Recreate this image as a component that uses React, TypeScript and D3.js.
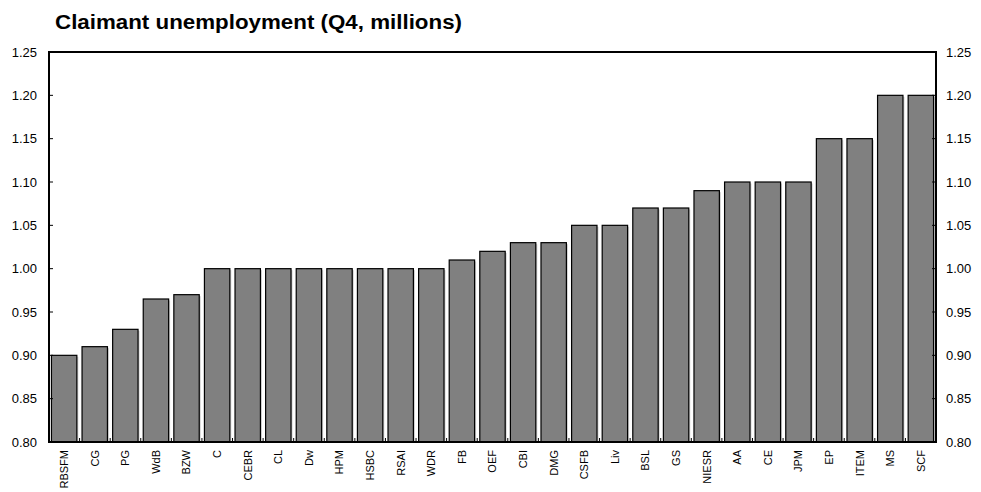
import React from "react";
import * as d3 from "d3";

const categories = ["RBSFM","CG","PG","WdB","BZW","C","CEBR","CL","Dw","HPM","HSBC","RSAI","WDR","FB","OEF","CBI","DMG","CSFB","Liv","BSL","GS","NIESR","AA","CE","JPM","EP","ITEM","MS","SCF"];
const values = [0.90,0.91,0.93,0.965,0.97,1.00,1.00,1.00,1.00,1.00,1.00,1.00,1.00,1.01,1.02,1.03,1.03,1.05,1.05,1.07,1.07,1.09,1.10,1.10,1.10,1.15,1.15,1.20,1.20];
const yTicks = [0.80,0.85,0.90,0.95,1.00,1.05,1.10,1.15,1.20,1.25];
const title = "Claimant unemployment (Q4, millions)";

export default function App() {
  const W = 981, H = 492;
  const left = 49, right = 936, top = 52, bottom = 442;
  const x = d3.scaleBand<string>().domain(categories).range([left, right]).paddingInner(0.17).paddingOuter(0.08);
  const xb = d3.scaleBand<string>().domain(categories).range([left, right]);
  const y = d3.scaleLinear().domain([0.80, 1.25]).range([bottom, top]);
  const font = "Arial, 'Liberation Sans', sans-serif";
  return (
    <svg width={W} height={H} style={{ position: "absolute", left: 0, top: 0 }} fontFamily={font}>
      <text x={55} y={29} fontSize={20} fontWeight="bold" fill="#000" textLength={407} lengthAdjust="spacingAndGlyphs">{title}</text>
      {categories.map((c, i) => (
        <rect key={"s" + c} x={x(c)! + 1.5} y={y(values[i]) + 1.5} width={x.bandwidth()} height={y(0.80) - y(values[i]) - 1.5}
          fill="#d0d0d0" />
      ))}
      {categories.map((c, i) => (
        <rect key={c} x={x(c)!} y={y(values[i])} width={x.bandwidth()} height={y(0.80) - y(values[i])}
          fill="#808080" stroke="#000" strokeWidth={1.2} />
      ))}
      {categories.slice(1).map((c) => (
        <line key={"bt" + c} x1={xb(c)!} x2={xb(c)!} y1={bottom} y2={bottom - 4} stroke="#000" strokeWidth={1} />
      ))}
      {yTicks.map((t) => (
        <g key={t}>
          <line x1={left} x2={left + 4} y1={y(t)} y2={y(t)} stroke="#000" strokeWidth={1} />
          <line x1={right} x2={right - 4} y1={y(t)} y2={y(t)} stroke="#000" strokeWidth={1} />
          <text x={37} y={y(t)} dy="0.35em" textAnchor="end" fontSize={13}>{t.toFixed(2)}</text>
          <text x={946} y={y(t)} dy="0.35em" textAnchor="start" fontSize={13}>{t.toFixed(2)}</text>
        </g>
      ))}
      <rect x={left} y={top} width={right - left} height={bottom - top} fill="none" stroke="#000" strokeWidth={2} />
      {categories.map((c) => (
        <text key={"l" + c} transform={`translate(${x(c)! + x.bandwidth() / 2},${bottom + 8}) rotate(-90)`}
          dy="0.35em" textAnchor="end" fontSize={11}>{c}</text>
      ))}
    </svg>
  );
}
